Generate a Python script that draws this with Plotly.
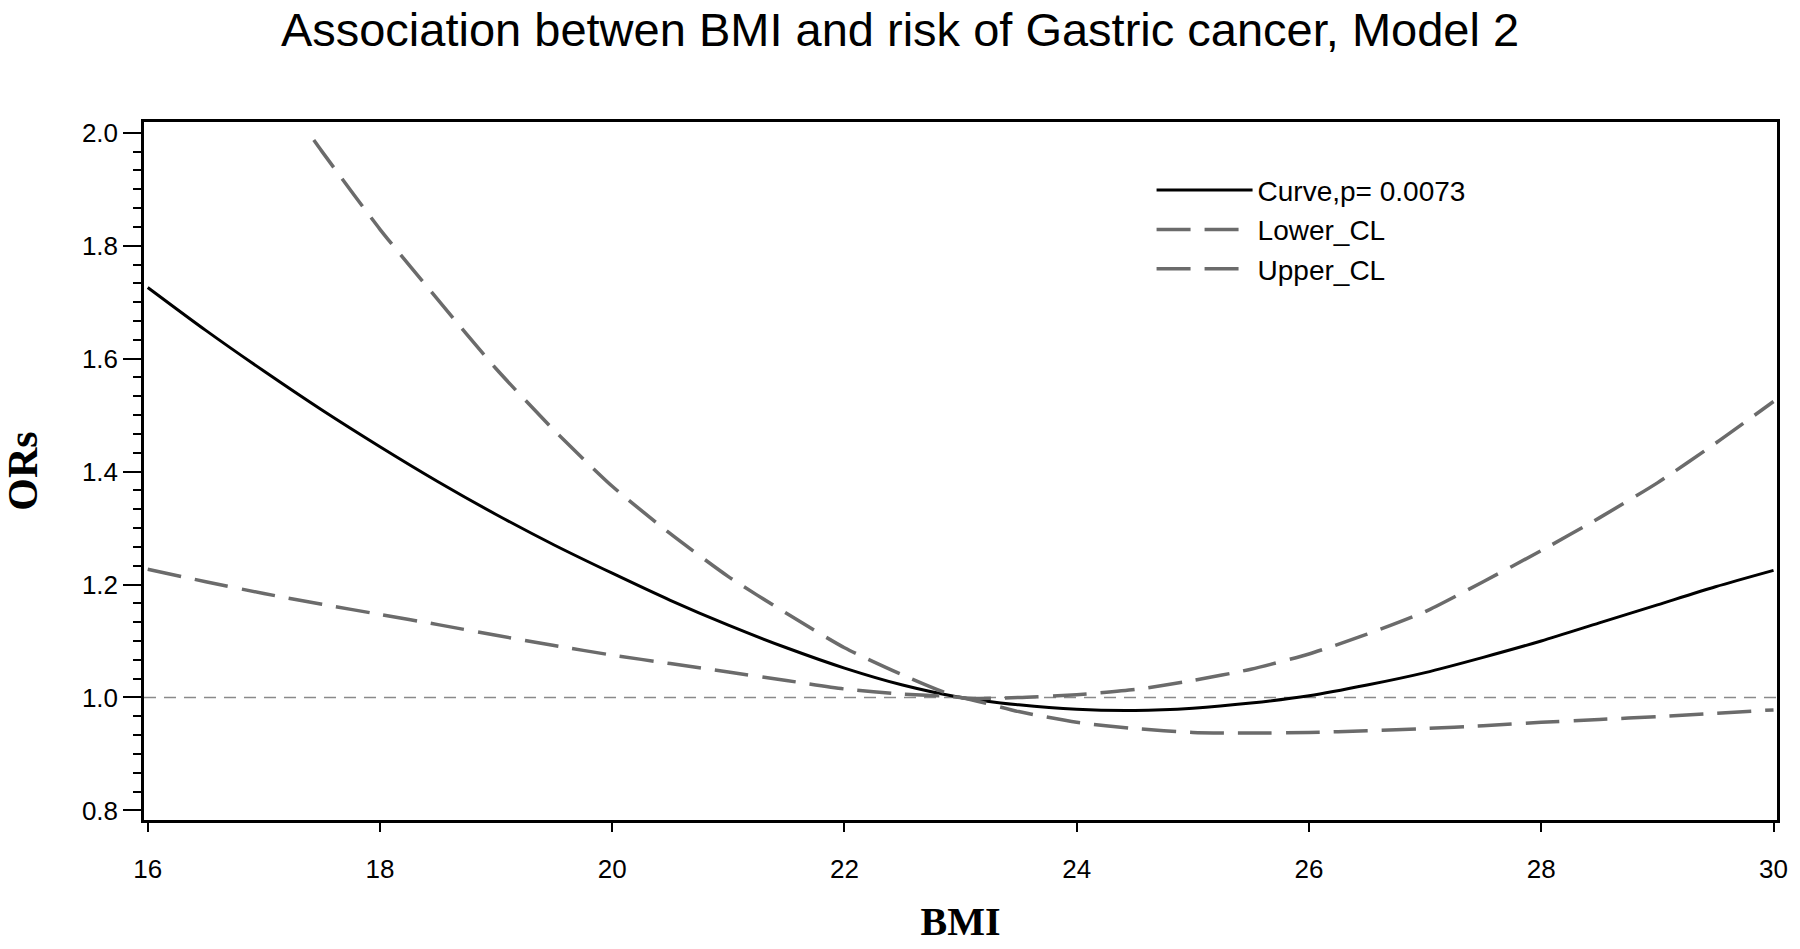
import plotly.graph_objects as go

# ---- data ----
curve_bmi = [16.0, 16.5, 17.0, 17.5, 18.0, 18.5, 19.0, 19.5, 20.0, 20.5, 21.0, 21.5, 22.0, 22.5,
             23.0, 23.5, 24.0, 24.5, 25.0, 25.5, 26.0, 26.5, 27.0, 27.5, 28.0, 28.5, 29.0, 29.5, 30.0]
curve_or = [1.726, 1.650, 1.578, 1.509, 1.444, 1.382, 1.324, 1.270, 1.220, 1.172, 1.128, 1.088, 1.052,
            1.022, 1.000, 0.987, 0.979, 0.977, 0.981, 0.990, 1.003, 1.022, 1.044, 1.071, 1.100, 1.132,
            1.164, 1.196, 1.225]

lower_bmi = [16.0, 16.5, 17.0, 17.5, 18.0, 18.5, 19.0, 19.5, 20.0, 20.5, 21.0, 21.5, 22.0, 22.5,
             23.0, 23.5, 24.0, 24.5, 25.0, 25.5, 26.0, 26.5, 27.0, 27.5, 28.0, 28.5, 29.0, 29.5, 30.0]
lower_or = [1.227, 1.205, 1.184, 1.165, 1.147, 1.129, 1.110, 1.092, 1.075, 1.060, 1.045, 1.030, 1.015,
            1.006, 1.000, 0.975, 0.956, 0.945, 0.938, 0.937, 0.938, 0.941, 0.945, 0.950, 0.956, 0.961,
            0.966, 0.972, 0.978]

upper_bmi = [17.43, 17.5, 18.0, 18.5, 19.0, 19.5, 20.0, 20.5, 21.0, 21.5, 22.0, 22.5,
             23.0, 23.5, 24.0, 24.5, 25.0, 25.5, 26.0, 26.5, 27.0, 27.5, 28.0, 28.5, 29.0, 29.5, 30.0]
upper_or = [1.987, 1.967, 1.829, 1.704, 1.582, 1.473, 1.374, 1.290, 1.214, 1.149, 1.088, 1.040,
            1.000, 1.000, 1.005, 1.014, 1.030, 1.050, 1.077, 1.112, 1.152, 1.205, 1.260, 1.318, 1.380,
            1.450, 1.524]

series_names = ["Curve,p= 0.0073", "Lower_CL", "Upper_CL"]
ref_or = 1.0
x_ticks = [16, 18, 20, 22, 24, 26, 28, 30]
y_ticks = [0.8, 1.0, 1.2, 1.4, 1.6, 1.8, 2.0]

title_text = "Association betwen BMI and risk of Gastric cancer, Model 2"
x_title = "BMI"
y_title = "ORs"

# ---- figure ----
SANS = "Liberation Sans, Arial, Helvetica, sans-serif"
SERIF = "Liberation Serif, Times New Roman, serif"
CL_COLOR = "#6b6b6b"

fig = go.Figure()
fig.add_trace(go.Scatter(x=curve_bmi, y=curve_or, mode="lines", name=series_names[0],
                         line=dict(color="black", width=3, shape="spline", smoothing=0.8)))
fig.add_trace(go.Scatter(x=lower_bmi, y=lower_or, mode="lines", name=series_names[1],
                         line=dict(color=CL_COLOR, width=3.5, dash="34px,14px",
                                   shape="spline", smoothing=0.6)))
fig.add_trace(go.Scatter(x=upper_bmi, y=upper_or, mode="lines", name=series_names[2],
                         line=dict(color=CL_COLOR, width=3.5, dash="34px,14px",
                                   shape="spline", smoothing=0.6)))

fig.add_hline(y=ref_or, line=dict(color="#8a8a8a", width=1.5, dash="12px,8px"), layer="below")

fig.update_layout(
    width=1800, height=949,
    paper_bgcolor="white", plot_bgcolor="white",
    margin=dict(l=139, r=20, t=122, b=125),
    title=dict(text=title_text, x=0.5, xref="container", xanchor="center",
               y=0.969, yref="container", yanchor="middle",
               font=dict(family=SANS, size=47, color="black")),
    showlegend=True,
    legend=dict(x=0.617, y=0.938, xanchor="left", yanchor="top",
                bgcolor="rgba(0,0,0,0)", font=dict(family=SANS, size=28, color="black"),
                tracegroupgap=0, itemwidth=96),
    xaxis=dict(range=[15.968, 30.03], tickvals=x_ticks, ticktext=[str(v) for v in x_ticks],
               ticks="outside", ticklen=9, tickwidth=1.5, tickcolor="black",
               showline=True, linewidth=2.5, linecolor="black", mirror=True,
               showgrid=False, zeroline=False,
               tickfont=dict(family=SANS, size=26, color="black"),
               ticklabelstandoff=15,
               title=dict(text="<b>" + x_title + "</b>", standoff=25,
                          font=dict(family=SERIF, size=40, color="black"))),
    yaxis=dict(range=[0.783, 2.019], tickvals=y_ticks, ticktext=[f"{v:.1f}" for v in y_ticks],
               ticks="outside", ticklen=18, tickwidth=2, tickcolor="black",
               minor=dict(dtick=0.2 / 6, tick0=0.8, ticks="outside", ticklen=8,
                          tickwidth=2, tickcolor="black", showgrid=False),
               showline=True, linewidth=2.5, linecolor="black", mirror=True,
               showgrid=False, zeroline=False,
               tickfont=dict(family=SANS, size=26, color="black"),
               title=dict(text="<b>" + y_title + "</b>", standoff=40,
                          font=dict(family=SERIF, size=42, color="black"))),
)

fig.write_html(
    "out.html",
    config={"displayModeBar": False},
    post_script="document.body.style.margin='0';document.body.style.overflow='hidden';",
)
